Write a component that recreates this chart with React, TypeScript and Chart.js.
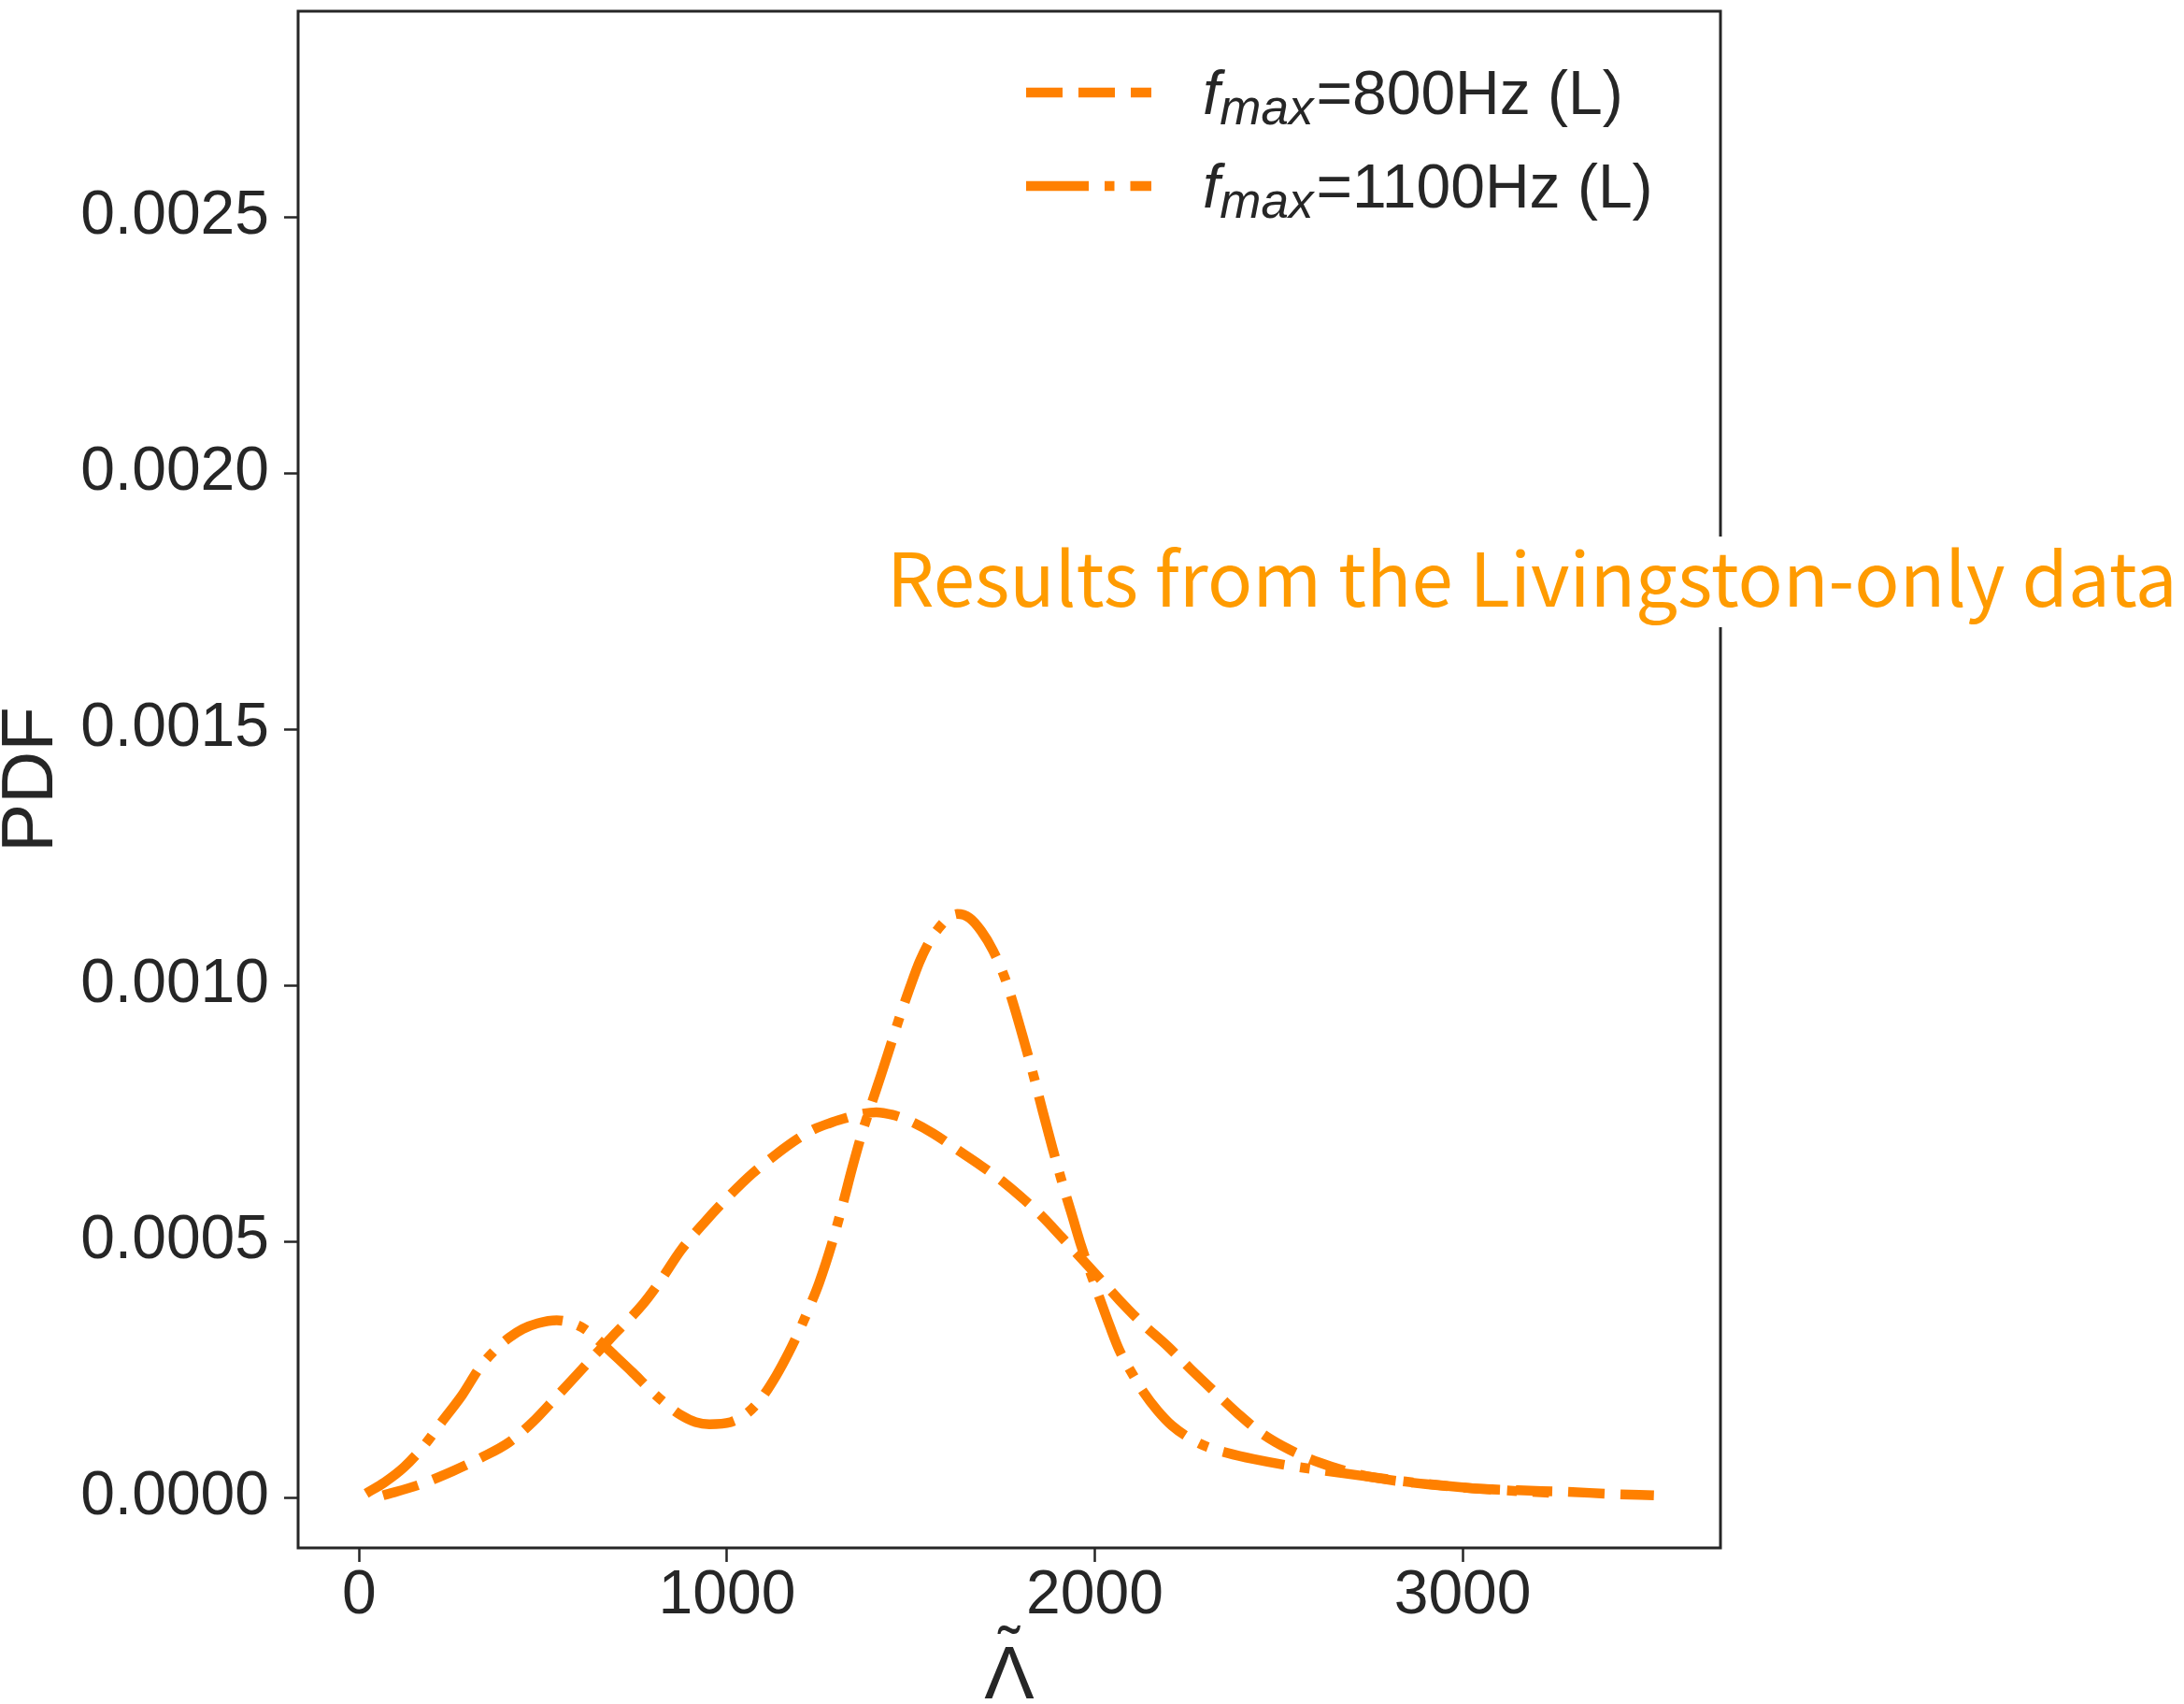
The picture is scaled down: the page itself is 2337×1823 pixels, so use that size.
import React, { useEffect, useRef } from "react";
import { Chart, registerables } from "chart.js";

Chart.register(...registerables);

// ---------- data ----------
const X_800 = [65, 160, 253, 330, 408, 470, 537, 600, 642, 700, 771, 820, 875, 940, 1005, 1070, 1134, 1190, 1237, 1280, 1315, 1360, 1406, 1450, 1497, 1560, 1626, 1690, 1756, 1810, 1859, 1910, 1963, 2015, 2067, 2130, 2197, 2260, 2326, 2390, 2456, 2530, 2611, 2690, 2766, 2900, 3027, 3150, 3286, 3400, 3520];
const Y_800 = [0.000004, 0.000024, 0.000051, 0.000077, 0.000108, 0.000146, 0.000197, 0.000246, 0.000279, 0.000323, 0.000377, 0.000424, 0.000483, 0.000538, 0.000588, 0.000633, 0.00067, 0.000699, 0.000719, 0.000731, 0.000739, 0.000748, 0.000752, 0.000747, 0.000735, 0.000711, 0.000679, 0.000648, 0.000613, 0.00058, 0.000547, 0.000508, 0.000467, 0.000426, 0.000385, 0.000339, 0.000296, 0.000251, 0.000206, 0.000163, 0.000124, 0.000093, 0.000068, 0.000050, 0.000038, 0.000026, 0.000018, 0.000014, 0.000011, 0.000007, 0.000004];

const X_1100 = [19, 70, 122, 175, 226, 280, 329, 370, 408, 445, 485, 537, 580, 615, 650, 692, 745, 797, 835, 874, 915, 952, 1010, 1056, 1095, 1134, 1168, 1198, 1225, 1250, 1285, 1315, 1340, 1367, 1393, 1419, 1445, 1470, 1497, 1523, 1550, 1574, 1600, 1626, 1660, 1691, 1723, 1756, 1782, 1808, 1834, 1859, 1885, 1912, 1938, 1963, 1990, 2015, 2041, 2067, 2100, 2132, 2170, 2210, 2255, 2301, 2360, 2431, 2530, 2637, 2740, 2845, 3027, 3235];
const Y_1100 = [0.000008, 0.00003, 0.000059, 0.0001, 0.000149, 0.0002, 0.000255, 0.000288, 0.000312, 0.000329, 0.00034, 0.000346, 0.00034, 0.000328, 0.000307, 0.000279, 0.000243, 0.000206, 0.000182, 0.000161, 0.000147, 0.000143, 0.000147, 0.000165, 0.000195, 0.000238, 0.000283, 0.000328, 0.000373, 0.000418, 0.000495, 0.000573, 0.000642, 0.000711, 0.000769, 0.000825, 0.000883, 0.000939, 0.000995, 0.001045, 0.001085, 0.00111, 0.00113, 0.001139, 0.001131, 0.001106, 0.001068, 0.001013, 0.000955, 0.00089, 0.000822, 0.000752, 0.000682, 0.000613, 0.000551, 0.000491, 0.000435, 0.000385, 0.000334, 0.000287, 0.000244, 0.000206, 0.000170, 0.00014, 0.000117, 0.0001, 0.000087, 0.000075, 0.000062, 0.000051, 0.000041, 0.000031, 0.000018, 0.000009];

const X_TICKS = [0, 1000, 2000, 3000];
const X_TICK_LABELS = ["0", "1000", "2000", "3000"];
const Y_TICKS = [0, 0.0005, 0.001, 0.0015, 0.002, 0.0025];
const Y_TICK_LABELS = ["0.0000", "0.0005", "0.0010", "0.0015", "0.0020", "0.0025"];

const SERIES_LABELS = ["f_max=800Hz (L)", "f_max=1100Hz (L)"];
const LEGEND_MAIN = ["f", "f"];
const LEGEND_SUB = ["max", "max"];
const LEGEND_REST = ["=800Hz (L)", "=1100Hz (L)"];
const X_TITLE_BASE = "Λ";
const X_TITLE_ACCENT = "\u02DC";
const Y_TITLE = "PDF";
const NOTE = "Results from the Livingston-only data";

// ---------- styles ----------
const W = 2337;
const H = 1823;
const LINE = "#ff8000";
const NOTE_COLOR = "#ff9b00";
const INK = "#262626";
const FONT = '"Liberation Sans", Arial, sans-serif';
const LW = 10.5;
const DASH_800 = [39, 17];
const DASH_1100 = [67, 17, 10.5, 17];

const overlay = {
  id: "overlay",
  afterDatasetsDraw(chart: any) {
    const ctx = chart.ctx as CanvasRenderingContext2D;
    const a = chart.chartArea;
    ctx.save();
    // frame
    ctx.strokeStyle = INK;
    ctx.lineWidth = 3;
    ctx.strokeRect(a.left, a.top, a.right - a.left, a.bottom - a.top);

    // legend
    const rows = [
      { y: 99, base: 122, dash: DASH_800 },
      { y: 199, base: 222, dash: DASH_1100 },
    ];
    rows.forEach((r, i) => {
      ctx.save();
      ctx.strokeStyle = LINE;
      ctx.lineWidth = LW;
      ctx.lineCap = "butt";
      ctx.setLineDash(r.dash);
      ctx.beginPath();
      ctx.moveTo(1098, r.y);
      ctx.lineTo(1232, r.y);
      ctx.stroke();
      ctx.restore();
      ctx.fillStyle = INK;
      ctx.textBaseline = "alphabetic";
      ctx.textAlign = "left";
      let x = 1287;
      ctx.font = `italic 66px ${FONT}`;
      ctx.fillText(LEGEND_MAIN[i], x, r.base);
      x += ctx.measureText(LEGEND_MAIN[i]).width;
      ctx.font = `italic 53px ${FONT}`;
      ctx.fillText(LEGEND_SUB[i], x, r.base + 11);
      x += ctx.measureText(LEGEND_SUB[i]).width + 3;
      ctx.font = `66px ${FONT}`;
      ctx.fillText(LEGEND_REST[i], x, r.base);
    });

    // axis titles
    ctx.fillStyle = INK;
    ctx.font = `78px ${FONT}`;
    ctx.textAlign = "center";
    ctx.textBaseline = "middle";
    ctx.save();
    ctx.translate(34, (a.top + a.bottom) / 2);
    ctx.rotate(-Math.PI / 2);
    ctx.fillText(Y_TITLE, 0, 0);
    ctx.restore();
    const cx = (a.left + a.right) / 2;
    ctx.font = `80px ${FONT}`;
    ctx.textBaseline = "alphabetic";
    ctx.fillText(X_TITLE_BASE, cx, 1817);
    ctx.font = `70px ${FONT}`;
    const m = ctx.measureText(X_TITLE_ACCENT);
    const asc = m.actualBoundingBoxAscent || 50;
    ctx.fillText(X_TITLE_ACCENT, cx, 1738 + asc);

    // annotation with white box
    ctx.fillStyle = "#ffffff";
    ctx.fillRect(940, 574, W - 940, 97);
    ctx.fillStyle = NOTE_COLOR;
    ctx.textAlign = "left";
    ctx.textBaseline = "alphabetic";
    ctx.font = `84px "Noto Sans CJK JP", ${FONT}`;
    const nw = ctx.measureText(NOTE).width;
    const size = Math.min(90, (84 * 1381) / nw);
    ctx.font = `${size.toFixed(1)}px "Noto Sans CJK JP", ${FONT}`;
    ctx.fillText(NOTE, 949, 649);
    ctx.restore();
  },
};

export default function App() {
  const ref = useRef<HTMLCanvasElement | null>(null);
  useEffect(() => {
    if (!ref.current) return;
    const tickFont = { family: FONT, size: 66 };
    const chart = new Chart(ref.current, {
      type: "line",
      data: {
        datasets: [
          {
            label: SERIES_LABELS[0],
            data: X_800.map((x, i) => ({ x, y: Y_800[i] })),
            borderColor: LINE,
            borderWidth: LW,
            borderDash: DASH_800,
            borderCapStyle: "butt",
            pointRadius: 0,
            fill: false,
            cubicInterpolationMode: "monotone",
          },
          {
            label: SERIES_LABELS[1],
            data: X_1100.map((x, i) => ({ x, y: Y_1100[i] })),
            borderColor: LINE,
            borderWidth: LW,
            borderDash: DASH_1100,
            borderCapStyle: "butt",
            pointRadius: 0,
            fill: false,
            cubicInterpolationMode: "monotone",
          },
        ],
      },
      options: {
        responsive: false,
        animation: false,
        layout: { padding: { left: 0, top: 12, right: W - 1841, bottom: 0 } },
        plugins: { legend: { display: false }, tooltip: { enabled: false } },
        scales: {
          x: {
            type: "linear",
            min: -166,
            max: 3701,
            afterFit: (s: any) => {
              s.height = H - 1656;
              s.paddingLeft = 0;
              s.paddingRight = 0;
            },
            afterBuildTicks: (s: any) => { s.ticks = X_TICKS.map((v) => ({ value: v })); },
            ticks: {
              font: tickFont,
              color: INK,
              padding: -3,
              maxRotation: 0,
              autoSkip: false,
              callback: (_v: any, i: number) => X_TICK_LABELS[i],
            },
            grid: { display: true, drawOnChartArea: false, drawTicks: true, tickLength: 15, tickWidth: 2.5, tickColor: INK },
            border: { display: false },
          },
          y: {
            type: "linear",
            min: -0.0000985,
            max: 0.0029015,
            afterFit: (s: any) => {
              s.width = 319;
              s.paddingTop = 0;
              s.paddingBottom = 0;
            },
            afterBuildTicks: (s: any) => { s.ticks = Y_TICKS.map((v) => ({ value: v })); },
            ticks: {
              font: tickFont,
              color: INK,
              padding: 16,
              autoSkip: false,
              callback: (_v: any, i: number) => Y_TICK_LABELS[i],
            },
            grid: { display: true, drawOnChartArea: false, drawTicks: true, tickLength: 15, tickWidth: 2.5, tickColor: INK },
            border: { display: false },
          },
        },
      },
      plugins: [overlay],
    } as any);
    return () => chart.destroy();
  }, []);
  return (
    <div style={{ position: "absolute", left: 0, top: 0, width: W, height: H, background: "#fff" }}>
      <canvas ref={ref} width={W} height={H} style={{ width: W, height: H, display: "block" }} />
    </div>
  );
}
